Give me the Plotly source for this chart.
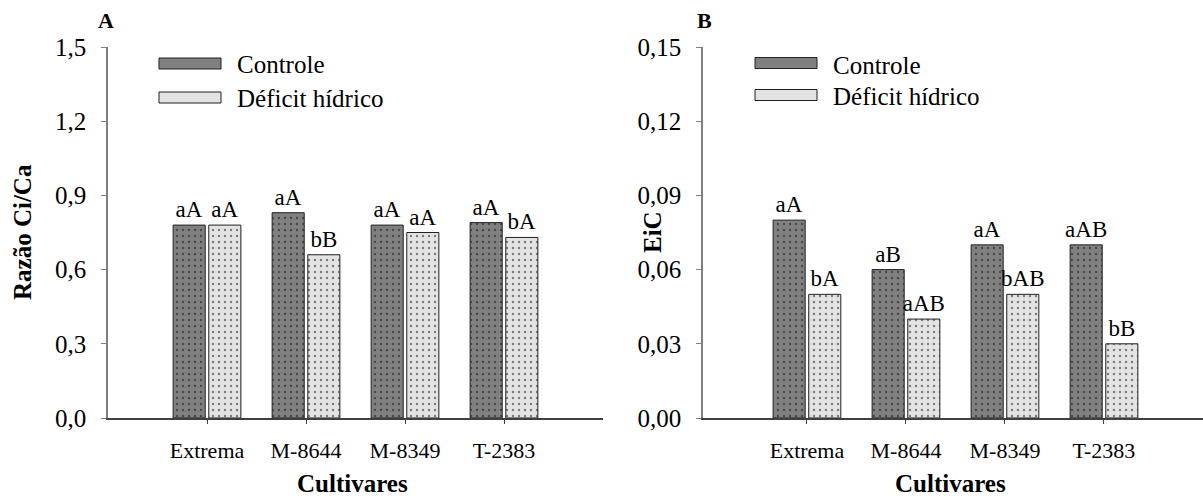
import plotly.graph_objects as go

cultivares = ["Extrema", "M-8644", "M-8349", "T-2383"]
series_names = ["Controle", "Déficit hídrico"]

ratio_controle = [0.78, 0.83, 0.78, 0.79]
ratio_deficit = [0.78, 0.66, 0.75, 0.73]
ratio_lbl_controle = ["aA", "aA", "aA", "aA"]
ratio_lbl_deficit = ["aA", "bB", "aA", "bA"]

eic_controle = [0.08, 0.06, 0.07, 0.07]
eic_deficit = [0.05, 0.04, 0.05, 0.03]
eic_lbl_controle = ["aA", "aB", "aA", "aAB"]
eic_lbl_deficit = ["bA", "aAB", "bAB", "bB"]

ratio_ticks = [0.0, 0.3, 0.6, 0.9, 1.2, 1.5]
eic_ticks = [0.0, 0.03, 0.06, 0.09, 0.12, 0.15]

FONT = "Liberation Serif, Times New Roman, serif"
colors = ["#808080", "#e3e3e3"]
W, H = 1203, 500

fig = go.Figure()

def add_bars(xa, ya, vals_list, lbls_list):
    for name, vals, lbls, col in zip(series_names, vals_list, lbls_list, colors):
        fig.add_trace(go.Bar(
            x=cultivares, y=vals, name=name, text=lbls,
            textposition="outside", cliponaxis=False, constraintext="none",
            textfont=dict(family=FONT, size=23, color="black"),
            marker=dict(color=col, line=dict(color="#202020", width=1),
                        pattern=dict(shape=".", fgcolor="#111111", size=6,
                                     solidity=0.12, fillmode="overlay")),
            xaxis=xa, yaxis=ya, showlegend=False,
        ))

add_bars("x", "y", [ratio_controle, ratio_deficit], [ratio_lbl_controle, ratio_lbl_deficit])
add_bars("x2", "y2", [eic_controle, eic_deficit], [eic_lbl_controle, eic_lbl_deficit])

ydom = [(H - 418) / H, (H - 47) / H]
xdomA = [108 / W, 603 / W]
xdomB = [703 / W, 1.0]

xcommon = dict(type="category", showline=True, linecolor="#404040", linewidth=1.5,
               ticks="outside", ticklen=4, tickcolor="#404040", showgrid=False,
               zeroline=False, ticklabelstandoff=8, automargin=False,
               tickfont=dict(family=FONT, size=22, color="black"))
ycommon = dict(showline=True, linecolor="#808080", linewidth=1.5,
               ticks="outside", ticklen=5, tickcolor="#808080", showgrid=False,
               zeroline=False, ticklabelstandoff=10, automargin=False,
               tickfont=dict(family=FONT, size=25, color="black"))

fig.update_layout(
    width=W, height=H, margin=dict(l=0, r=0, t=0, b=0, pad=0, autoexpand=False),
    paper_bgcolor="white", plot_bgcolor="white", showlegend=False,
    separators=",.", barmode="group", bargap=0.28, bargroupgap=0.1,
    xaxis=dict(domain=xdomA, range=[-1, 4], anchor="y", **xcommon),
    yaxis=dict(domain=ydom, range=[0, 1.5], anchor="x", tickvals=ratio_ticks,
               tickformat=".1f", **ycommon),
    xaxis2=dict(domain=xdomB, range=[-1.05, 4], anchor="y2", **xcommon),
    yaxis2=dict(domain=ydom, range=[0, 0.15], anchor="x2", tickvals=eic_ticks,
                tickformat=".2f", **ycommon),
    font=dict(family=FONT, color="black"),
)

annotations = []
shapes = []

def txt(x, y, t, size, bold=False, angle=0, xanchor="center"):
    annotations.append(dict(x=x / W, y=1 - y / H, xref="paper", yref="paper",
                            text=f"<b>{t}</b>" if bold else t, showarrow=False,
                            textangle=angle, xanchor=xanchor, yanchor="middle",
                            font=dict(family=FONT, size=size, color="black")))

# panel letters
txt(106, 20, "A", 22, bold=True)
txt(704, 20, "B", 22, bold=True)
# axis titles
txt(352, 483, "Cultivares", 25, bold=True)
txt(950, 483, "Cultivares", 25, bold=True)
txt(23, 232, "Razão Ci/Ca", 25, bold=True, angle=-90)
txt(653, 232, "EiC", 25, bold=True, angle=-90)

# legends
for x0, rows in [(159, [(63.5, 64), (97.5, 99)]), (755, [(63, 65), (95, 97)])]:
    for (sy, ty), name, col in zip(rows, series_names, colors):
        shapes.append(dict(type="rect", xref="paper", yref="paper",
                           x0=x0 / W, x1=(x0 + 62) / W,
                           y0=1 - (sy + 5.5) / H, y1=1 - (sy - 5.5) / H,
                           fillcolor=col, line=dict(color="#202020", width=1)))
        txt(x0 + 76, ty, name, 25, xanchor="left")

fig.update_layout(annotations=annotations, shapes=shapes)
fig.write_html("out.html")
